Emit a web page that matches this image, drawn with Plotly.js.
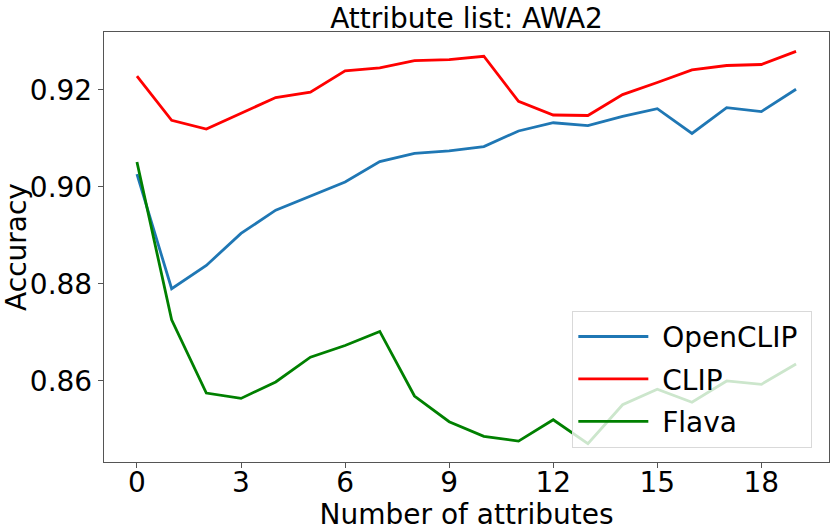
<!DOCTYPE html>
<html>
<head>
<meta charset="utf-8">
<script src="https://cdn.plot.ly/plotly-3.0.1.min.js"></script>
<style>html,body{margin:0;padding:0;background:#fff;}#chart{width:831px;height:531px;}</style>
</head>
<body>
<div id="chart"></div>
<script>
const numAttributes = [0,1,2,3,4,5,6,7,8,9,10,11,12,13,14,15,16,17,18,19];
const openclip = [0.9026,0.8790,0.8838,0.8904,0.8952,0.8981,0.9010,0.9052,0.9069,0.9074,0.9083,0.9115,0.9132,0.9126,0.9145,0.9161,0.9110,0.9163,0.9155,0.9201];
const clip = [0.9228,0.9137,0.9119,0.9152,0.9184,0.9195,0.9239,0.9245,0.9260,0.9262,0.9269,0.9176,0.9148,0.9147,0.9190,0.9215,0.9241,0.9250,0.9252,0.9279];
const flava = [0.9051,0.8726,0.8575,0.8564,0.8598,0.8649,0.8673,0.8702,0.8569,0.8516,0.8486,0.8476,0.8520,0.8471,0.8551,0.8583,0.8556,0.8600,0.8593,0.8635];
const seriesNames = ['OpenCLIP','CLIP','Flava'];

const font = 'DejaVu Sans, sans-serif';
const pad = s => '\u00a0' + s + '\u00a0';
const traces = [
  {x:numAttributes, y:openclip, name:pad(seriesNames[0]), legendgroup:'a', mode:'lines', line:{color:'#1f77b4', width:2.8}},
  {x:numAttributes, y:clip, name:pad(seriesNames[1]), legendgroup:'b', mode:'lines', line:{color:'#ff0000', width:2.8}},
  {x:numAttributes, y:flava, name:pad(seriesNames[2]), legendgroup:'c', mode:'lines', line:{color:'#008000', width:2.8}}
];
const layout = {
  width:831, height:531,
  margin:{l:104, r:2, t:32, b:69},
  paper_bgcolor:'#fff', plot_bgcolor:'#fff',
  font:{family:font, size:28, color:'#000'},
  title:{text:'Attribute list: AWA2', font:{family:font, size:28, color:'#000'}, x:0.5, xref:'paper', xanchor:'center', y:0.965, yref:'container', yanchor:'middle'},
  showlegend:true,
  legend:{x:0.977, y:0.033, xanchor:'right', yanchor:'bottom', bgcolor:'rgba(255,255,255,0.8)', bordercolor:'#d9d9d9', borderwidth:1,
    traceorder:'grouped', tracegroupgap:3, itemwidth:70,
    font:{family:font, size:28, color:'#000'}},
  xaxis:{range:[-0.95,19.95], tickmode:'linear', tick0:0, dtick:3, showgrid:false, zeroline:false,
    showline:true, linecolor:'#555', linewidth:1.2, mirror:true, ticks:'outside', ticklen:5, tickcolor:'#555',
    ticklabelstandoff:-10,
    tickfont:{family:font, size:28, color:'#000'},
    title:{text:'Number of attributes', font:{family:font, size:28, color:'#000'}, standoff:0}},
  yaxis:{range:[0.8433,0.9319], tickmode:'linear', tick0:0.86, dtick:0.02, tickformat:'.2f', showgrid:false, zeroline:false,
    showline:true, linecolor:'#555', linewidth:1.2, mirror:true, ticks:'outside', ticklen:5, tickcolor:'#555',
    tickfont:{family:font, size:28, color:'#000'},
    title:{text:'Accuracy', font:{family:font, size:28, color:'#000'}, standoff:6}}
};
Plotly.newPlot('chart', traces, layout, {displayModeBar:false, staticPlot:true});
</script>
</body>
</html>
